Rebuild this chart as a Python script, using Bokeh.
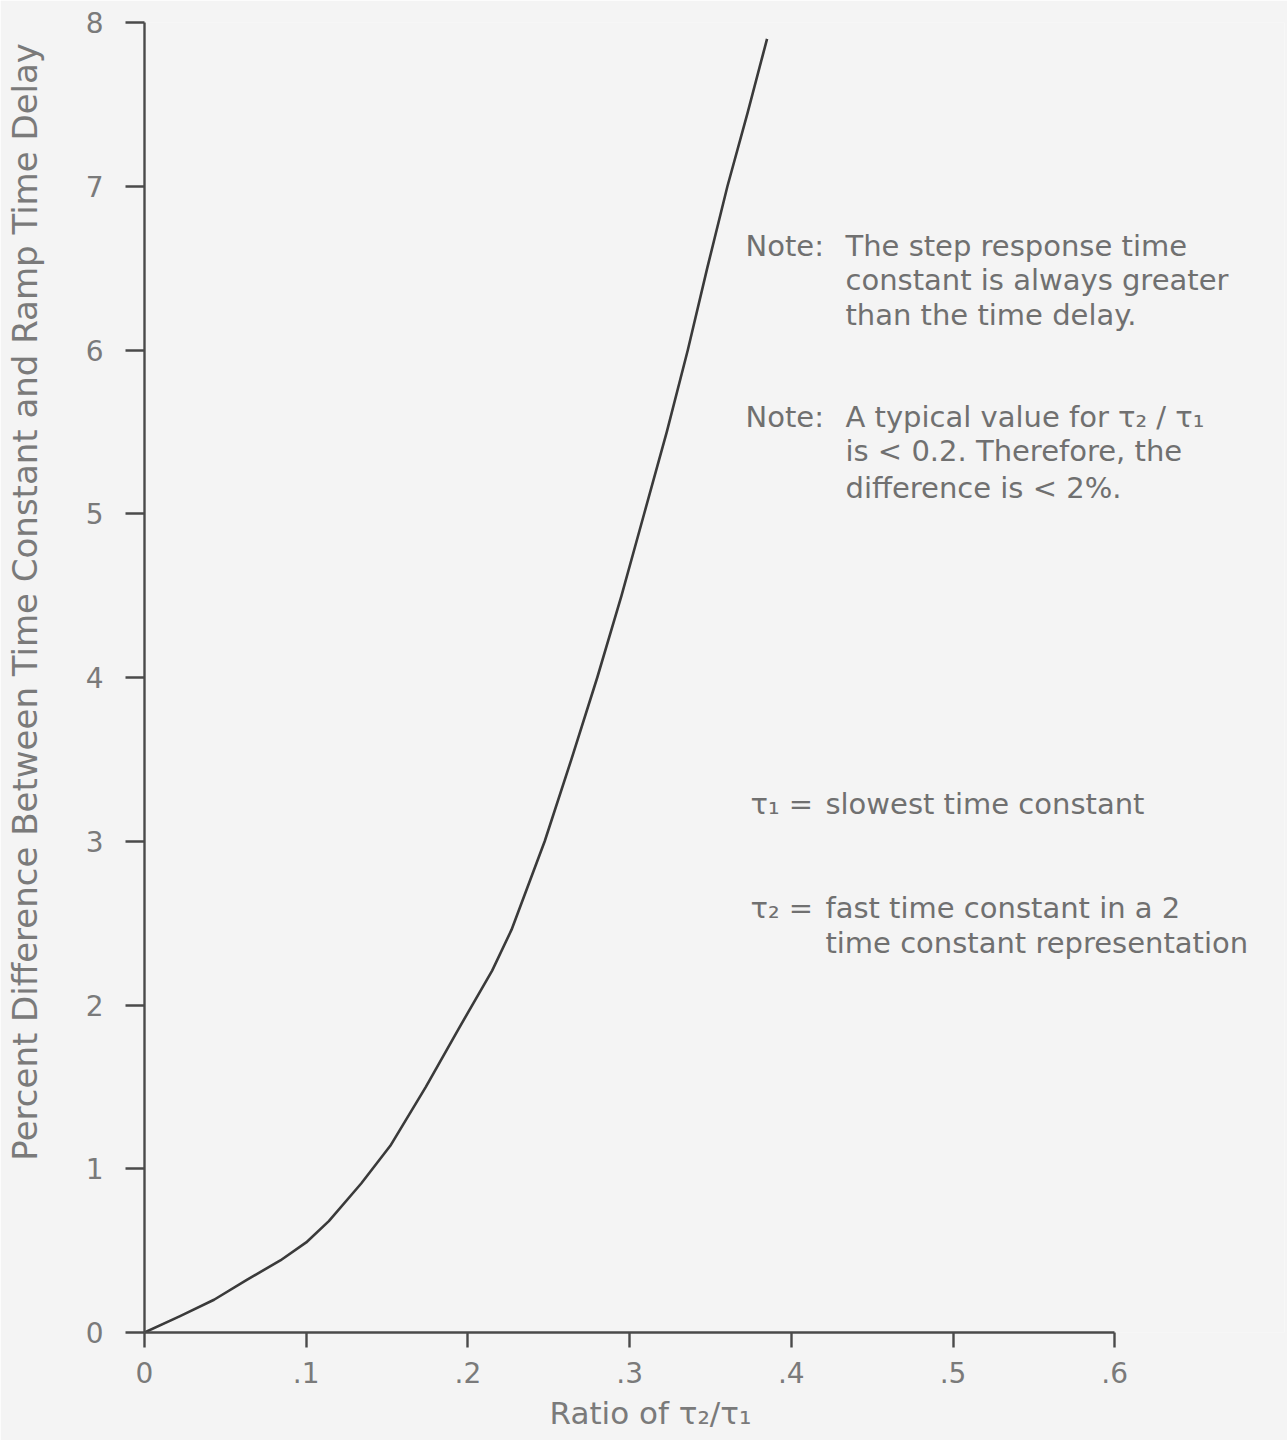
from bokeh.plotting import figure
from bokeh.models import FixedTicker, CustomJSTickFormatter, Range1d
from bokeh.core.properties import value
from bokeh.embed import file_html
from bokeh.resources import INLINE

# Curve
ratio = [0.0, 0.022, 0.043, 0.063, 0.084, 0.100, 0.114, 0.134, 0.152, 0.174,
         0.194, 0.215, 0.227, 0.2475, 0.264, 0.280, 0.295, 0.309, 0.323, 0.336,
         0.348, 0.3605, 0.373, 0.385]
pct_diff = [0.0, 0.10, 0.20, 0.32, 0.44, 0.55, 0.68, 0.91, 1.14, 1.50,
            1.85, 2.21, 2.46, 3.00, 3.50, 4.00, 4.50, 5.00, 5.50, 6.00,
            6.50, 7.00, 7.45, 7.90]

x_ticks = [0, 0.1, 0.2, 0.3, 0.4, 0.5, 0.6]
y_ticks = [0, 1, 2, 3, 4, 5, 6, 7, 8]

x_title = "Ratio of \u03c4\u2082/\u03c4\u2081"
y_title = "Percent Difference Between Time Constant and Ramp Time Delay"

note_lines_a = ["The step response time", "constant is always greater", "than the time delay."]
note_lines_b = ["A typical value for \u03c4\u2082 / \u03c4\u2081", "is < 0.2. Therefore, the", "difference is < 2%."]
def_syms = ["\u03c4\u2081 =", "\u03c4\u2082 ="]
def_lines = ["slowest time constant", "fast time constant in a 2", "time constant representation"]

FONT = "DejaVu Sans"
BG = "#f4f4f4"
TXT = "#707070"
AXC = "#4a4a4a"
NB = "\u00a0"

p = figure(width=1287, height=1440, output_backend="svg", toolbar_location=None,
           x_range=Range1d(0, 0.705), y_range=Range1d(0, 8))
p.min_border_left = 144
p.min_border_right = 3
p.min_border_top = 22
p.min_border_bottom = 108
p.background_fill_color = BG
p.border_fill_color = BG
p.outline_line_color = None
p.grid.visible = False

p.line(ratio, pct_diff, line_color="#3a3a3a", line_width=2.6, line_join="round")

for ax in (p.xaxis[0], p.yaxis[0]):
    ax.axis_line_color = AXC
    ax.axis_line_width = 2.4
    ax.major_tick_line_color = AXC
    ax.major_tick_line_width = 2.4
    ax.minor_tick_line_color = None
    ax.major_tick_in = 0
    ax.major_label_text_font = FONT
    ax.major_label_text_color = "#7a7a7a"
    ax.major_label_text_font_size = "28px"
    ax.axis_label_text_font = FONT
    ax.axis_label_text_color = "#7a7a7a"
    ax.axis_label_text_font_style = "normal"

xa = p.xaxis[0]
xa.bounds = (0, 0.6)
xa.ticker = FixedTicker(ticks=x_ticks)
xa.formatter = CustomJSTickFormatter(code="return tick == 0 ? '0' : tick.toFixed(1).replace(/^0/, '');")
xa.major_tick_out = 15
xa.major_label_standoff = 14
# trailing no-break spaces shift the centred title left, as in the reference
xa.axis_label = x_title + NB * 13
xa.axis_label_text_font_size = "31px"
xa.axis_label_standoff = 9

ya = p.yaxis[0]
ya.bounds = (0, 8)
ya.ticker = FixedTicker(ticks=y_ticks)
ya.major_tick_out = 19
ya.major_label_standoff = 22
# leading no-break spaces shift the centred title upward, as in the reference
ya.axis_label = NB * 14 + y_title
ya.axis_label_text_font_size = "34px"
ya.axis_label_standoff = 38

ts = dict(text_font=value(FONT), text_font_size="29px", text_color=TXT,
          text_baseline="middle", text_align="left")
x_note, x_body = 0.3717, 0.4335
y_a = [6.638, 6.425, 6.211]
y_b = [5.588, 5.386, 5.160]
p.text(x=[x_note, x_note], y=[y_a[0], y_b[0]], text=["Note:", "Note:"], **ts)
p.text(x=[x_body] * 3, y=y_a, text=note_lines_a, **ts)
p.text(x=[x_body] * 3, y=y_b, text=note_lines_b, **ts)

x_sym, x_def = 0.3748, 0.4211
p.text(x=[x_sym, x_sym], y=[3.230, 2.595], text=def_syms, **ts)
p.text(x=[x_def] * 3, y=[3.230, 2.595, 2.381], text=def_lines, **ts)

open("out.html", "w").write(file_html(p, INLINE))
